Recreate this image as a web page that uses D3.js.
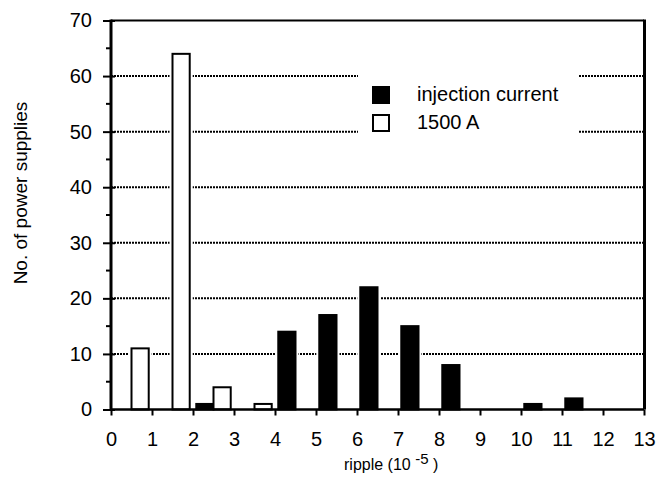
<!DOCTYPE html>
<html>
<head>
<meta charset="utf-8">
<script src="https://cdn.jsdelivr.net/npm/d3@7"></script>
<style>
  body { margin: 0; background: #fff; }
  svg { display: block; font-family: "Liberation Sans", Arial, Helvetica, sans-serif; }
</style>
</head>
<body>
<div class="chart"></div>
<script>
const w = 662;
const h = 491;

// ripple bins (lower edge, units of 1e-5)
const bins = [0, 1, 2, 3, 4, 5, 6, 7, 8, 9, 10, 11, 12];
const injection = [0, 0, 1, 0, 14, 17, 22, 15, 8, 0, 1, 2, 0];
const amp1500 = [11, 64, 4, 1, 0, 0, 0, 0, 0, 0, 0, 0, 0];
const seriesNames = ['injection current', '1500 A'];
const seriesFill = ['#000', '#fff'];
const xTicks = [0, 1, 2, 3, 4, 5, 6, 7, 8, 9, 10, 11, 12, 13];
const yTicks = [0, 10, 20, 30, 40, 50, 60, 70];
const yMinor = [5, 15, 25, 35, 45, 55, 65];
const gridVals = [10, 20, 30, 40, 50, 60];

const plotL = 111, plotR = 644, plotT = 20.5, plotB = 409.5;

const svg = d3.select('.chart')
  .append('svg')
  .attr('width', w)
  .attr('height', h);

const xScale = d3.scaleLinear().domain([0, 13]).range([plotL, plotR]);
const yScale = d3.scaleLinear().domain([0, 70]).range([plotB, plotT]);

const band = d3.scaleBand()
  .domain(bins)
  .range([plotL, plotR])
  .paddingInner(0.16)
  .paddingOuter(0.08);
const sub = d3.scaleBand()
  .domain(seriesNames)
  .range([0, band.bandwidth()]);

// dotted grid
svg.append('g')
  .selectAll('line')
  .data(gridVals)
  .join('line')
  .attr('x1', plotL)
  .attr('x2', plotR)
  .attr('y1', (d) => yScale(d))
  .attr('y2', (d) => yScale(d))
  .attr('stroke', '#000')
  .attr('stroke-width', 2)
  .attr('stroke-dasharray', '2,1');

// legend background breaks the grid
svg.append('rect')
  .attr('x', 358)
  .attr('y', 68)
  .attr('width', 221)
  .attr('height', 70)
  .attr('fill', '#fff');

const rows = [];
bins.forEach((b, i) => {
  rows.push({ bin: b, s: seriesNames[0], v: injection[i] });
  rows.push({ bin: b, s: seriesNames[1], v: amp1500[i] });
});
const bars = rows.filter((d) => d.v > 0);

const bx = (d) => band(d.bin) + sub(d.s);

// white halo round each bar
svg.append('g')
  .selectAll('rect')
  .data(bars)
  .join('rect')
  .attr('x', (d) => bx(d) - 3)
  .attr('y', (d) => yScale(d.v) - 3)
  .attr('width', sub.bandwidth() + 6)
  .attr('height', (d) => plotB - yScale(d.v) + 3)
  .attr('fill', '#fff');

svg.append('g')
  .selectAll('rect')
  .data(bars)
  .join('rect')
  .attr('x', (d) => bx(d))
  .attr('y', (d) => yScale(d.v))
  .attr('width', sub.bandwidth())
  .attr('height', (d) => plotB - yScale(d.v))
  .attr('fill', (d) => seriesFill[seriesNames.indexOf(d.s)])
  .attr('stroke', '#000')
  .attr('stroke-width', 2);

// frame
svg.append('line')
  .attr('x1', plotL).attr('x2', plotR)
  .attr('y1', plotT).attr('y2', plotT)
  .attr('stroke', '#000').attr('stroke-width', 2);
svg.append('line')
  .attr('x1', plotR + 0.5).attr('x2', plotR + 0.5)
  .attr('y1', plotT - 1).attr('y2', plotB)
  .attr('stroke', '#000').attr('stroke-width', 3);

// Bottom axis
const xAxis = d3.axisBottom(xScale)
  .tickValues(xTicks)
  .tickSize(6)
  .tickPadding(16)
  .tickFormat(d3.format('d'));
const gx = svg.append('g')
  .attr('transform', `translate(0,${plotB})`)
  .call(xAxis);
gx.select('.domain').attr('stroke-width', 2.5).attr('d', `M${plotL},0H${plotR}`);
gx.selectAll('.tick line').attr('stroke-width', 2);
gx.selectAll('.tick text')
  .attr('font-size', 20)
  .attr('font-family', null)
  .attr('fill', '#000');

// Left axis
const yAxis = d3.axisLeft(yScale)
  .tickValues(yTicks)
  .tickSize(8)
  .tickPadding(11);
const gy = svg.append('g')
  .attr('transform', `translate(${plotL},0)`)
  .call(yAxis);
gy.select('.domain').attr('stroke-width', 3).attr('d', `M0,${plotT - 1}V${plotB + 1}`);
gy.selectAll('.tick line').attr('stroke-width', 2).attr('x2', -8).attr('x1', 4);
gy.selectAll('.tick text')
  .attr('font-size', 20)
  .attr('font-family', null)
  .attr('fill', '#000');

gy.selectAll('.minor')
  .data(yMinor)
  .join('line')
  .attr('class', 'minor')
  .attr('x1', -5)
  .attr('x2', 0)
  .attr('y1', (d) => yScale(d))
  .attr('y2', (d) => yScale(d))
  .attr('stroke', '#000')
  .attr('stroke-width', 2);

// legend
const legend = svg.append('g');
seriesNames.forEach((name, i) => {
  legend.append('rect')
    .attr('x', 373)
    .attr('y', 87 + i * 28)
    .attr('width', 16)
    .attr('height', 16)
    .attr('fill', seriesFill[i])
    .attr('stroke', '#000')
    .attr('stroke-width', 2);
  legend.append('text')
    .attr('x', 417)
    .attr('y', 101 + i * 28)
    .attr('font-size', 20)
    .text(name);
});

// axis titles
const xt = svg.append('text')
  .attr('x', 344)
  .attr('y', 470)
  .attr('font-size', 16);
xt.append('tspan').text('ripple (10 ');
xt.append('tspan').attr('dy', -6).attr('font-size', 15).text('-5');
xt.append('tspan').attr('dy', 6).text(' )');

svg.append('text')
  .attr('transform', 'translate(27,193) rotate(-90)')
  .attr('text-anchor', 'middle')
  .attr('font-size', 19)
  .text('No. of power supplies');
</script>
</body>
</html>
